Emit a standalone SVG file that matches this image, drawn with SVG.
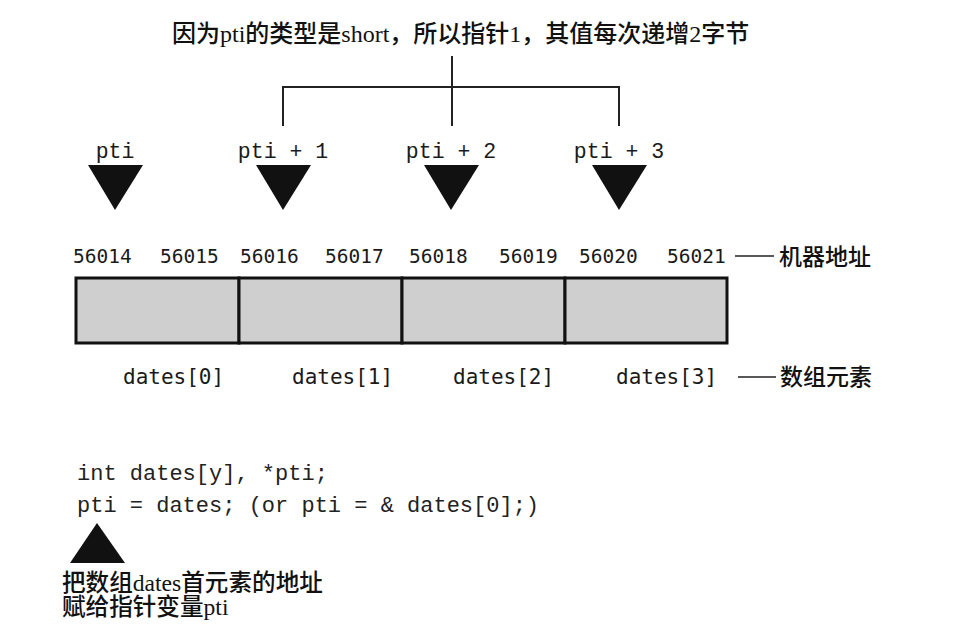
<svg xmlns="http://www.w3.org/2000/svg" width="970" height="627" viewBox="0 0 970 627">
  <style>
    .cn { font-family: "Liberation Serif", "Noto Sans CJK SC", serif; font-size: 23px; font-weight: 500; fill: #111; }
    .cn.big { font-size: 24px; }
    .cn.note { font-size: 23.6px; }
    .mono { font-family: "Liberation Mono", "DejaVu Sans Mono", monospace; font-size: 21.5px; fill: #1a1a1a; }
    .mono.code { font-size: 22px; fill: #222; }
    .addr { font-family: "DejaVu Sans Mono", monospace; font-size: 19.5px; fill: #1a1a1a; }
    .elem { font-family: "DejaVu Sans Mono", monospace; font-size: 21px; fill: #1a1a1a; }
    .wire { stroke: #222; stroke-width: 2; fill: none; }
    .dash { stroke: #222; stroke-width: 1.6; }
    .tri { fill: #111; }
    .cell { fill: #cfcfcf; stroke: #111; stroke-width: 3; }
  </style>

  <rect width="970" height="627" fill="#fff"/>

  <!-- caption over the pointer increments -->
  <g id="caption">
    <text class="cn big" x="172" y="42">因为pti的类型是short，所以指针1，其值每次递增2字节</text>
  </g>

  <!-- bracket joining the caption to pti+1 .. pti+3 -->
  <g id="connectors">
    <line class="wire" x1="452" y1="56" x2="452" y2="126"/>
    <polyline class="wire" points="283,126 283,87 619,87 619,126"/>
    <line class="dash" x1="735" y1="256" x2="774" y2="256"/>
    <line class="dash" x1="738" y1="377" x2="776" y2="377"/>
  </g>

  <!-- pointer markers -->
  <g id="ptr0">
    <text class="mono" x="115" y="158" text-anchor="middle">pti</text>
    <polygon class="tri" points="88,165 143,165 115,210"/>
  </g>
  <g id="ptr1">
    <text class="mono" x="283" y="158" text-anchor="middle">pti + 1</text>
    <polygon class="tri" points="256,165 311,165 283,210"/>
  </g>
  <g id="ptr2">
    <text class="mono" x="451" y="158" text-anchor="middle">pti + 2</text>
    <polygon class="tri" points="424,165 479,165 451,210"/>
  </g>
  <g id="ptr3">
    <text class="mono" x="619" y="158" text-anchor="middle">pti + 3</text>
    <polygon class="tri" points="592,165 647,165 619,210"/>
  </g>

  <!-- machine addresses -->
  <g id="addresses">
    <text class="addr" x="73" y="263">56014</text>
    <text class="addr" x="160" y="263">56015</text>
    <text class="addr" x="240" y="263">56016</text>
    <text class="addr" x="325" y="263">56017</text>
    <text class="addr" x="409" y="263">56018</text>
    <text class="addr" x="499" y="263">56019</text>
    <text class="addr" x="579" y="263">56020</text>
    <text class="addr" x="667" y="263">56021</text>
    <text class="cn" x="779" y="265">机器地址</text>
  </g>

  <!-- the four array cells -->
  <g id="cell0"><rect class="cell" x="76" y="278" width="163" height="65"/></g>
  <g id="cell1"><rect class="cell" x="239" y="278" width="163" height="65"/></g>
  <g id="cell2"><rect class="cell" x="402" y="278" width="163" height="65"/></g>
  <g id="cell3"><rect class="cell" x="565" y="278" width="162" height="65"/></g>

  <!-- element names -->
  <g id="elements">
    <text class="elem" x="123" y="384">dates[0]</text>
    <text class="elem" x="292" y="384">dates[1]</text>
    <text class="elem" x="453" y="384">dates[2]</text>
    <text class="elem" x="616" y="384">dates[3]</text>
    <text class="cn" x="780" y="385">数组元素</text>
  </g>

  <!-- declaration code -->
  <g id="code">
    <text class="mono code" x="77" y="480">int dates[y], *pti;</text>
    <text class="mono code" x="77" y="512">pti = dates; (or pti = &amp; dates[0];)</text>
  </g>

  <!-- note under the assignment -->
  <g id="note">
    <polygon class="tri" points="97,523 125,563 70,563"/>
    <text class="cn note" x="62" y="591">把数组dates首元素的地址</text>
    <text class="cn note" x="62" y="615">赋给指针变量pti</text>
  </g>
</svg>
